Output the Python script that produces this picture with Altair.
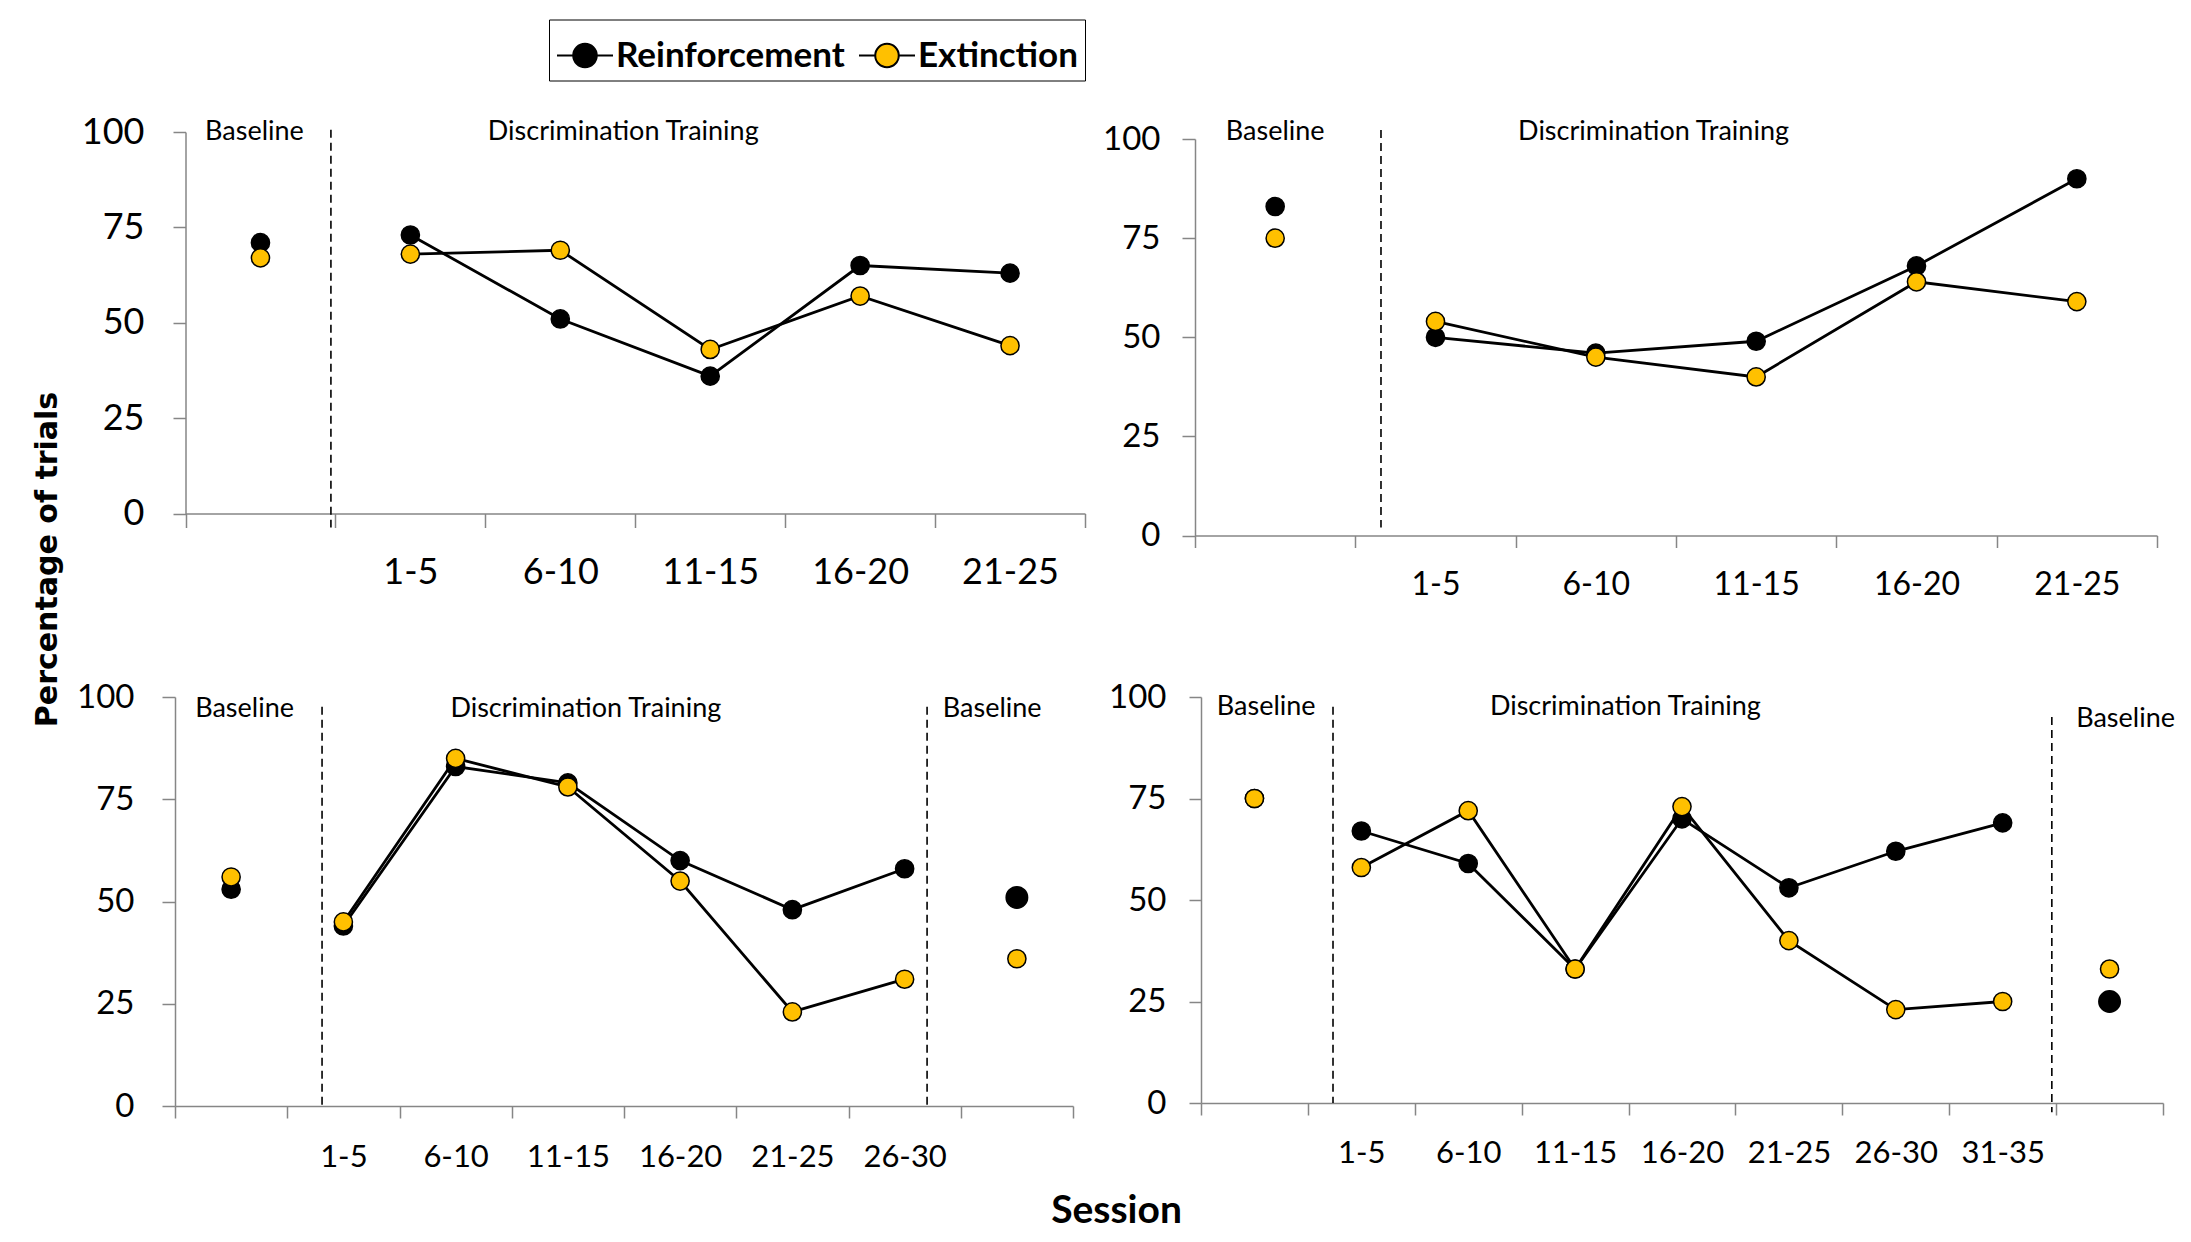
import json
import altair as alt
import pandas as pd

# ---------------- data ----------------
SERIES = ["Reinforcement", "Extinction"]
SERIES_COLORS = ["#000000", "#FFC000"]

P1_CATS = ["", "1-5", "6-10", "11-15", "16-20", "21-25"]
P1_REINF = [71, 73, 51, 36, 65, 63]
P1_EXT = [67, 68, 69, 43, 57, 44]

P2_CATS = ["", "1-5", "6-10", "11-15", "16-20", "21-25"]
P2_REINF = [83, 50, 46, 49, 68, 90]
P2_EXT = [75, 54, 45, 40, 64, 59]

P3_CATS = ["", "1-5", "6-10", "11-15", "16-20", "21-25", "26-30", ""]
P3_REINF = [53, 44, 83, 79, 60, 48, 58, 51]
P3_EXT = [56, 45, 85, 78, 55, 23, 31, 36]

P4_CATS = ["", "1-5", "6-10", "11-15", "16-20", "21-25", "26-30", "31-35", ""]
P4_REINF = [75, 67, 59, 33, 70, 53, 62, 69, 25]
P4_EXT = [75, 58, 72, 33, 73, 40, 23, 25, 33]

Y_TICKS = [0, 25, 50, 75, 100]
PHASE_NAMES = ["Baseline", "Discrimination Training"]

# phase dividers (category-axis position, top value, bottom value)
P1_DIVIDERS = [(0.97, 100.6, -3.7)]
P2_DIVIDERS = [(1.16, 102.3, 2.0)]
P3_DIVIDERS = [(1.31, 97.6, 0.0), (6.70, 97.6, 0.0)]
P4_DIVIDERS = [(1.235, 97.6, 0.0), (7.96, 95.1, -2.3)]

# phase labels (text, category-axis position, value)
P1_PHASES = [(PHASE_NAMES[0], 0.46, 100.0), (PHASE_NAMES[1], 2.92, 100.0)]
P2_PHASES = [(PHASE_NAMES[0], 0.50, 101.8), (PHASE_NAMES[1], 2.86, 101.8)]
P3_PHASES = [(PHASE_NAMES[0], 0.62, 97.0), (PHASE_NAMES[1], 3.66, 97.0), (PHASE_NAMES[0], 7.28, 97.0)]
P4_PHASES = [(PHASE_NAMES[0], 0.61, 97.6), (PHASE_NAMES[1], 3.97, 97.6), (PHASE_NAMES[0], 8.65, 94.6)]

FONT = "Lato"
AXIS_GRAY = "#868686"
LEGEND_SYMBOL = ("M-1,0L-0.42,0M0.42,0L1,0"
                 "M-0.42,0A0.42,0.42 0 1,0 0.42,0A0.42,0.42 0 1,0 -0.42,0Z")

LEGEND = alt.Legend(
    title=None, orient="none", legendX=374, legendY=-112.5,
    direction="horizontal", columns=2,
    symbolType=LEGEND_SYMBOL, symbolSize=3136,
    symbolStrokeColor="black", symbolStrokeWidth=2,
    labelFont=FONT, labelFontWeight="bold", labelFontSize=35,
    labelColor="black", labelLimit=500, labelOffset=2,
    columnPadding=10, padding=7, strokeColor="black",
)


def make_panel(cats, reinf, ext, dividers, phases, width, height, xr, yr,
               yoff, xfs, xtick, xpad, yfs, ytick, ypad, xextra=None, yextra=None):
    n = len(cats)
    rows = []
    for s, vals in zip(SERIES, (reinf, ext)):
        for i, v in enumerate(vals):
            phase = "pre" if i == 0 else ("post" if cats[i] == "" else "dt")
            rows.append({"series": s, "pos": i + 0.5, "value": v, "phase": phase})
    df = pd.DataFrame(rows)
    div_df = pd.DataFrame([{"pos": p, "top": t, "bottom": b} for p, t, b in dividers])
    ph_df = pd.DataFrame([{"label": l, "pos": p, "ly": y} for l, p, y in phases])

    half = (xr[1] - xr[0]) / n / 2
    xscale = alt.Scale(domain=[0, n], range=xr, nice=False, zero=False)
    yscale = alt.Scale(domain=[0, 100], range=yr, nice=False, zero=False)

    xkw = dict(values=list(range(n + 1)),
               labelExpr="(" + json.dumps(cats) + ")[datum.value] || ''",
               labelOffset={"condition": {"test": f"datum.value >= {n}", "value": -half},
                            "value": half},
               labelFontSize=xfs, labelPadding=xpad,
               labelBaseline="middle", labelOverlap=False, labelFlush=False,
               tickSize=xtick, title=None)
    if xextra:
        xkw.update(xextra)
    ykw = dict(values=Y_TICKS, labelFontSize=yfs, labelPadding=ypad,
               tickSize=ytick, offset=yoff, title=None, labelOverlap=False,
               labelFlush=False)
    if yextra:
        ykw.update(yextra)
    xaxis = alt.Axis(**xkw)
    yaxis = alt.Axis(**ykw)

    def X(f):
        return alt.X(f, type="quantitative", scale=xscale, axis=xaxis)

    def Y(f):
        return alt.Y(f, type="quantitative", scale=yscale, axis=yaxis)

    rules = alt.Chart(div_df).mark_rule(
        color="black", strokeWidth=1.6, strokeDash=[8, 5]
    ).encode(x=X("pos"), y=Y("top"), y2="bottom")

    texts = alt.Chart(ph_df).mark_text(
        font=FONT, fontSize=27, color="black", align="center", baseline="middle"
    ).encode(x=X("pos"), y=Y("ly"), text="label:N")

    lines = alt.Chart(df).transform_filter("datum.phase == 'dt'").mark_line(
        color="black", strokeWidth=2.8
    ).encode(x=X("pos"), y=Y("value"), detail="series:N")

    points = alt.Chart(df).mark_point(
        filled=True, shape="circle", stroke="black", strokeWidth=1.5, opacity=1
    ).encode(
        x=X("pos"), y=Y("value"),
        fill=alt.Fill("series:N", scale=alt.Scale(domain=SERIES, range=SERIES_COLORS),
                      legend=LEGEND, sort=SERIES),
        size=alt.condition("datum.series == 'Reinforcement' && datum.phase == 'post'",
                           alt.value(460), alt.value(330)),
    )
    return alt.layer(rules, texts, lines, points).properties(width=width, height=height)


p1 = make_panel(P1_CATS, P1_REINF, P1_EXT, P1_DIVIDERS, P1_PHASES,
                910, 381.5, [10.5, 910], [381.5, 0], -10.5,
                36, 14, 45, 36, 12.5, 29)
p2 = make_panel(P2_CATS, P2_REINF, P2_EXT, P2_DIVIDERS, P2_PHASES,
                962, 403.5, [0, 962], [403.5, 7.1], 0,
                32, 12, 37, 33, 13, 22)
p3 = make_panel(P3_CATS, P3_REINF, P3_EXT, P3_DIVIDERS, P3_PHASES,
                898, 409, [0, 898], [409, 0], 0,
                31, 12, 39.5, 33, 13, 28,
                xextra=dict(title="Session", titleX=941, titleY=116,
                            titleAlign="center", titleBaseline="alphabetic",
                            titleFont=FONT, titleFontWeight="bold",
                            titleFontSize=39, titleColor="black"),
                yextra=dict(title="Percentage of trials", titleX=-119, titleY=-138,
                            titleAngle=270, titleAlign="center",
                            titleBaseline="alphabetic", titleFont="DejaVu Sans",
                            titleFontWeight="bold", titleFontSize=30,
                            titleColor="black"))
p4 = make_panel(P4_CATS, P4_REINF, P4_EXT, P4_DIVIDERS, P4_PHASES,
                968, 406, [6, 968], [406, 0], -6,
                31, 12, 38.5, 33, 12, 23)

chart = alt.concat(
    p1, p2, p3, p4, columns=2, bounds="flush", align="each",
    spacing={"row": 161, "column": 110},
).resolve_scale(
    x="independent", y="independent", fill="shared"
).properties(
    padding={"left": 23, "top": 11, "right": 0, "bottom": 2}
).configure_axis(
    domainColor=AXIS_GRAY, tickColor=AXIS_GRAY, domainWidth=1.5, tickWidth=1.5,
    labelColor="black", labelFont=FONT, grid=False,
).configure_view(stroke=None)

chart.save("out.html", embed_options={"renderer": "svg", "actions": False})
